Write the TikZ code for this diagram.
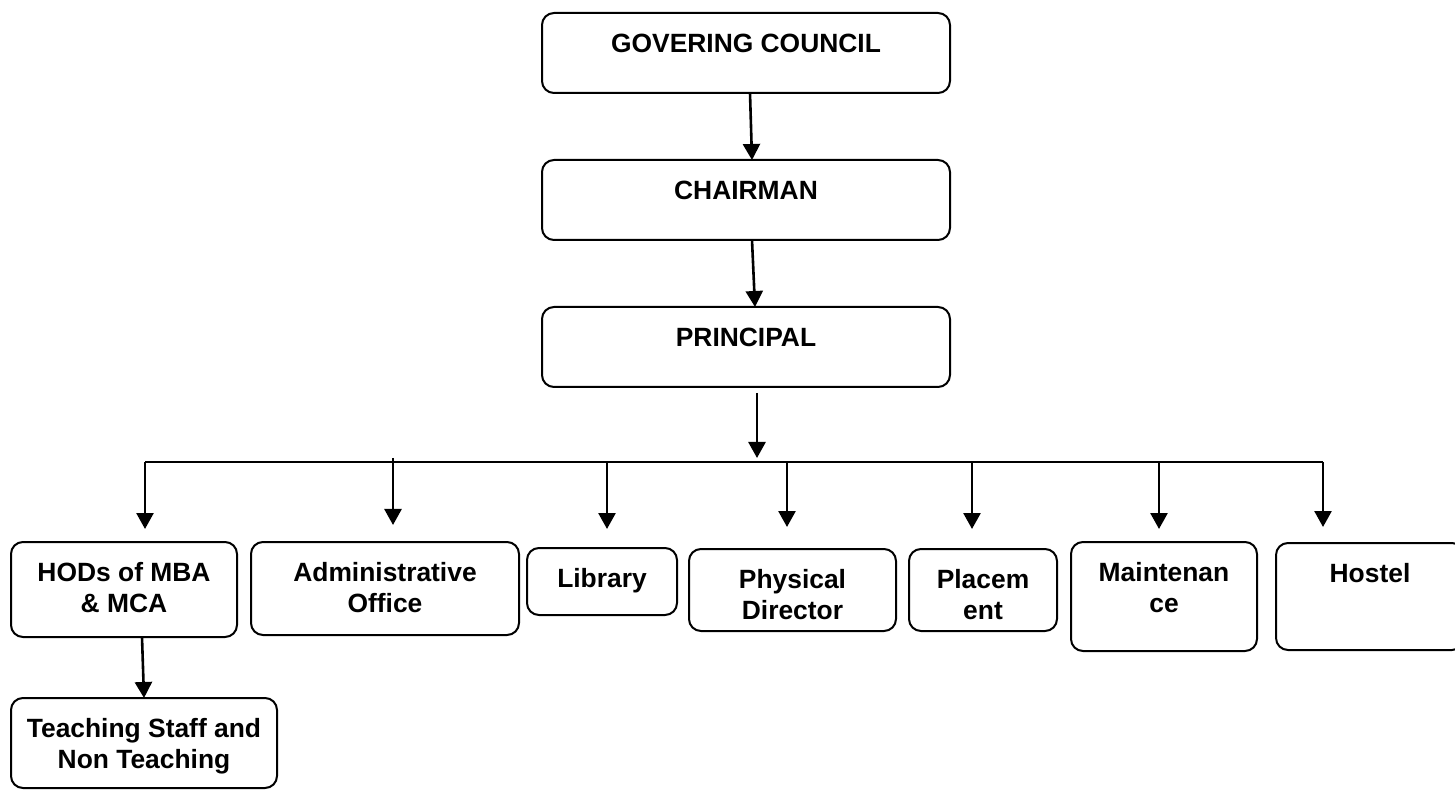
\documentclass[tikz,border=0pt]{standalone}
\usepackage{fontspec}
\setmainfont{Liberation Sans}
\usetikzlibrary{positioning, arrows.meta}
\newdimen\pxu
\pxu=0.5pt
% box body: width, height (in px), text set from the top
\newcommand{\boxtext}[3]{%
    \begin{minipage}[c][#2\pxu][t]{#1\pxu}\centering
    \rule{0pt}{19.75pt}#3\end{minipage}}
\tikzset{
    >={Triangle[width=8.5pt, length=8pt]}, % filled arrow heads
    unit/.style={draw, rounded corners=6pt, line width=1pt, inner sep=0pt, outer sep=0pt, anchor=north west,
        font=\fontsize{13.2pt}{15.25pt}\selectfont\bfseries}, % every box of the chart
    link/.style={->, line width=1.3pt}, % the arrows
}
\begin{document}
\begin{tikzpicture}[x=0.5pt, y=-0.5pt]
    \useasboundingbox (0,0) rectangle (1455,790);
    % top of the chart
    \node[unit] (gov) at (542,13) {\boxtext{408}{80}{GOVERING COUNCIL}};
    \node[unit, below=33.5pt of gov] (chair) {\boxtext{408}{80}{CHAIRMAN}};
    \node[unit, below=33.5pt of chair] (prin) {\boxtext{408}{80}{PRINCIPAL}};
    % departments
    \node[unit] (hod) at (11,542) {\boxtext{226}{95}{HODs of MBA\\ \& MCA}};
    \node[unit, right=7pt of hod.north east, anchor=north west] (admin) {\boxtext{268}{93}{Administrative\\ Office}};
    \node[unit, right=4pt of admin.north east, anchor=north west, yshift=-3pt] (lib) {\boxtext{150}{67}{Library}};
    \node[unit, right=6pt of lib.north east, anchor=north west, yshift=-0.5pt] (phys) {\boxtext{207}{82}{Physical\\ Director}};
    \node[unit, right=6.5pt of phys.north east, anchor=north west] (place) {\boxtext{148}{82}{Placem\\ ent}};
    \node[unit, right=7pt of place.north east, anchor=north west, yshift=3.5pt] (maint) {\boxtext{186}{109}{Maintenan\\ ce}};
    \node[unit, right=9.5pt of maint.north east, anchor=north west, yshift=-0.5pt] (hostel) {\boxtext{188}{107}{Hostel}};
    \node[unit, below=30.5pt of hod.south west, anchor=north west] (teach) {\boxtext{266}{90}{Teaching Staff and\\ Non Teaching}};
    % bus line
    \coordinate (hub) at (757,458);
    \coordinate (b1) at (145,462);
    \coordinate (b2) at (393,462);
    \coordinate (b3) at (607,462);
    \coordinate (b4) at (787,462);
    \coordinate (b5) at (972,462);
    \coordinate (b6) at (1159,462);
    \coordinate (b7) at (1323,462);
    \draw[line width=1pt] (b1) -- (b7);
    \draw[link] ([xshift=2pt]gov.south) -- ([xshift=3pt]chair.north);
    \draw[link] ([xshift=3pt]chair.south) -- ([xshift=4.5pt]prin.north);
    \draw[link] ([xshift=5.5pt, yshift=-3pt]prin.south) -- (hub);
    \draw[link, shorten >=6.5pt] (b1) -- (b1 |- hod.north);
    \draw[link, shorten >=8.5pt] ([yshift=2pt]b2) -- (b2 |- admin.north);
    \draw[link, shorten >=9.5pt] (b3) -- (b3 |- lib.north);
    \draw[link, shorten >=11pt] (b4) -- (b4 |- phys.north);
    \draw[link, shorten >=10pt] (b5) -- (b5 |- place.north);
    \draw[link, shorten >=6.5pt] (b6) -- (b6 |- maint.north);
    \draw[link, shorten >=8pt] (b7) -- (b7 |- hostel.north);
    \draw[link] ([xshift=9pt]hod.south) -- (teach.north);
\end{tikzpicture}
\end{document}
